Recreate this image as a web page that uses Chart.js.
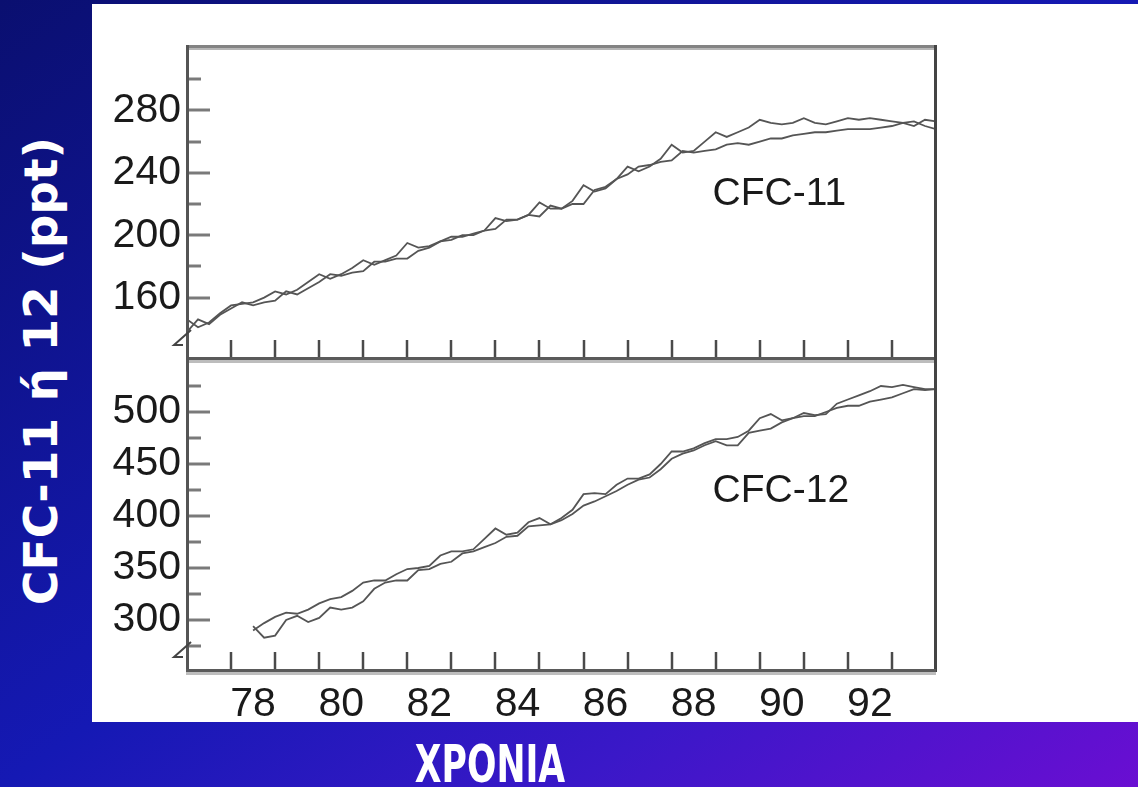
<!DOCTYPE html>
<html lang="el">
<head>
<meta charset="UTF-8">
<title>CFC-11 ή 12</title>
<script src="https://cdn.jsdelivr.net/npm/chart.js"></script>
<style>
  body {
    margin: 0;
    width: 1138px;
    height: 787px;
    overflow: hidden;
    position: relative;
    background: linear-gradient(to bottom right, #0a0f70 0%, #1519b4 50%, #3a18c8 75%, #6a0ed2 100%);
    font-family: "DejaVu Sans", sans-serif;
  }
  .sheet { position: absolute; left: 92px; top: 4px; width: 1046px; height: 718px; background: #fff; }
  canvas { position: absolute; left: 92px; }
  #c11 { top: 0; }
  #c12 { top: 300px; }
  #ytitle {
    position: absolute; left: 40px; top: 371px;
    transform: translate(-50%, -50%) rotate(-90deg);
    color: #fff; font-weight: bold; font-size: 47px; white-space: nowrap;
  }
  #xtitle {
    position: absolute; left: 490px; top: 764px;
    transform: translate(-50%, -50%) scaleX(0.68);
    color: #fff; font-weight: bold; font-size: 51px; white-space: nowrap;
  }
</style>
</head>
<body>

<div class="sheet"></div>
<canvas id="c11" width="1046" height="400"></canvas>
<canvas id="c12" width="1046" height="487"></canvas>
<div id="ytitle">CFC-11 ή 12 (ppt)</div>
<div id="xtitle">XPONIA</div>

<script>
    // CFC-11 (πάνω γράφημα), δύο σειρές ανά τρίμηνο
    const cfc11Years = [77, 77.25, 77.5, 77.75, 78, 78.25, 78.5, 78.75, 79, 79.25, 79.5, 79.75,
        80, 80.25, 80.5, 80.75, 81, 81.25, 81.5, 81.75, 82, 82.25, 82.5, 82.75,
        83, 83.25, 83.5, 83.75, 84, 84.25, 84.5, 84.75, 85, 85.25, 85.5, 85.75,
        86, 86.25, 86.5, 86.75, 87, 87.25, 87.5, 87.75, 88, 88.25, 88.5, 88.75,
        89, 89.25, 89.5, 89.75, 90, 90.25, 90.5, 90.75, 91, 91.25, 91.5, 91.75,
        92, 92.25, 92.5, 92.75, 93, 93.25, 93.5, 93.75, 94];
    const cfc11A = [146, 141, 144, 150, 155, 156, 157, 160, 164, 162, 165, 170,
        175, 172, 175, 179, 184, 181, 184, 187, 195, 192, 193, 196,
        199, 199, 201, 203, 211, 209, 210, 213, 221, 217, 217, 222,
        232, 228, 230, 236, 244, 241, 244, 249, 258, 253, 254, 260,
        266, 263, 266, 269, 274, 272, 271, 272, 275, 272, 271, 273,
        275, 274, 275, 274, 273, 272, 270, 274, 273];
    const cfc11B = [138, 146, 143, 149, 153, 157, 155, 157, 158, 164, 162, 166,
        170, 175, 174, 176, 177, 183, 183, 185, 185, 190, 192, 196,
        197, 200, 200, 203, 204, 210, 210, 213, 212, 219, 217, 220,
        220, 229, 231, 236, 239, 244, 245, 247, 248, 254, 253, 254,
        255, 258, 259, 258, 260, 262, 262, 264, 265, 266, 266, 267,
        268, 268, 268, 269, 270, 272, 273, 270, 268];

    // CFC-12 (κάτω γράφημα)
    const cfc12Years = [78.5, 78.75, 79, 79.25, 79.5, 79.75,
        80, 80.25, 80.5, 80.75, 81, 81.25, 81.5, 81.75, 82, 82.25, 82.5, 82.75,
        83, 83.25, 83.5, 83.75, 84, 84.25, 84.5, 84.75, 85, 85.25, 85.5, 85.75,
        86, 86.25, 86.5, 86.75, 87, 87.25, 87.5, 87.75, 88, 88.25, 88.5, 88.75,
        89, 89.25, 89.5, 89.75, 90, 90.25, 90.5, 90.75, 91, 91.25, 91.5, 91.75,
        92, 92.25, 92.5, 92.75, 93, 93.25, 93.5, 93.75, 94];
    const cfc12A = [290, 297, 303, 307, 306, 310,
        316, 320, 322, 328, 336, 338, 338, 344, 349, 350, 352, 362,
        366, 366, 368, 378, 388, 382, 384, 394, 398, 392, 398, 406,
        421, 422, 421, 430, 436, 436, 440, 450, 462, 462, 465, 470,
        474, 474, 476, 482, 494, 498, 492, 494, 499, 497, 498, 508,
        512, 516, 520, 525, 524, 526, 524, 522, 522];
    const cfc12B = [294, 283, 285, 300, 304, 298,
        302, 312, 310, 312, 318, 330, 336, 338, 338, 348, 349, 354,
        356, 364, 366, 370, 374, 380, 381, 390, 391, 392, 396, 402,
        410, 414, 419, 424, 430, 435, 437, 445, 455, 460, 463, 468,
        472, 468, 468, 480, 482, 484, 490, 494, 496, 496, 500, 504,
        506, 506, 510, 512, 514, 518, 522, 521, 522];

    // άξονες
    const yearTicks = [78, 79, 80, 81, 82, 83, 84, 85, 86, 87, 88, 89, 90, 91, 92, 93];
    const xLabels = ['78', '80', '82', '84', '86', '88', '90', '92'];
    const xLabelPos = [78.5, 80.5, 82.5, 84.5, 86.5, 88.5, 90.5, 92.5];
    const cfc11Major = [160, 200, 240, 280];
    const cfc11Minor = [180, 220, 260, 300];
    const cfc12Major = [300, 350, 400, 450, 500];
    const cfc12Minor = [275, 325, 375, 425, 475, 525];
    const panelNames = ['CFC-11', 'CFC-12'];
    const cfc11NameAt = [88.93, 226];
    const cfc12NameAt = [88.93, 424];

    const labelFont = { family: '"Liberation Sans", Arial, sans-serif', size: 41 };

    function pairs(xs, ys) {
        return xs.map(function (x, i) { return { x: x, y: ys[i] }; });
    }

    function line(ctx, x1, y1, x2, y2) {
        ctx.beginPath();
        ctx.moveTo(x1, y1);
        ctx.lineTo(x2, y2);
        ctx.stroke();
    }

    const panelPlugin = {
        id: 'panel',
        beforeDatasetsDraw(chart, args, opts) {
            const ctx = chart.ctx, a = chart.chartArea;
            const xs = chart.scales.x, ys = chart.scales.y;
            ctx.save();
            ctx.strokeStyle = '#4a4a4a';
            ctx.lineWidth = 2.5;
            yearTicks.forEach(function (v) {
                const px = Math.round(xs.getPixelForValue(v));
                line(ctx, px, a.bottom, px, a.bottom - 20);
            });
            ctx.strokeStyle = '#7a7a7a';
            ctx.lineWidth = 3;
            opts.major.forEach(function (v) {
                const py = Math.round(ys.getPixelForValue(v));
                line(ctx, a.left, py, a.left + 23, py);
            });
            opts.minor.forEach(function (v) {
                const py = Math.round(ys.getPixelForValue(v));
                line(ctx, a.left, py, a.left + 14, py);
            });
            ctx.restore();
        },
        afterDatasetsDraw(chart, args, opts) {
            const ctx = chart.ctx, a = chart.chartArea;
            const xs = chart.scales.x, ys = chart.scales.y;
            ctx.save();
            // πλαίσιο
            if (opts.drawTop) {
                ctx.fillStyle = '#838383';
                ctx.fillRect(a.left - 1, a.top - 3, a.right - a.left + 1, 3);
                ctx.fillStyle = '#b5b5b5';
                ctx.fillRect(a.left + 1, a.top, a.right - a.left - 2, 2);
            }
            ctx.fillStyle = '#555';
            ctx.fillRect(a.left - 1, a.top - 3, 3, a.bottom - a.top + 3);
            ctx.fillStyle = '#444';
            ctx.fillRect(a.right - 2, a.top - 3, 3, a.bottom - a.top + 3);
            ctx.fillStyle = '#5a5a5a';
            ctx.fillRect(a.left - 1, a.bottom - 3, a.right - a.left + 1, 3);
            ctx.fillStyle = '#bdbdbd';
            ctx.fillRect(a.left - 1, a.bottom, a.right - a.left + 1, 3);
            // σπάσιμο άξονα
            ctx.strokeStyle = '#444';
            ctx.lineWidth = 2;
            ctx.beginPath();
            ctx.moveTo(a.left + 4, a.bottom - 30);
            ctx.lineTo(a.left - 13, a.bottom - 15);
            ctx.lineTo(a.left - 4, a.bottom - 15);
            ctx.stroke();
            // όνομα σειράς
            ctx.fillStyle = '#1a1a1a';
            ctx.font = '39px "Liberation Sans", Arial, sans-serif';
            ctx.textBaseline = 'middle';
            ctx.textAlign = 'left';
            ctx.fillText(opts.name, xs.getPixelForValue(opts.nameAt[0]), ys.getPixelForValue(opts.nameAt[1]));
            ctx.restore();
        }
    };

    function dataset(points) {
        return {
            data: points,
            borderColor: '#555555',
            borderWidth: 1.8,
            pointRadius: 0,
            fill: false,
            tension: 0
        };
    }

    function yScale(min, max, majors) {
        return {
            type: 'linear',
            min: min,
            max: max,
            grid: { display: false, drawTicks: false },
            border: { display: false },
            afterBuildTicks: function (scale) {
                scale.ticks = majors.map(function (v) { return { value: v }; });
            },
            afterFit: function (scale) {
                scale.width = 95;
                scale.paddingTop = 0;
                scale.paddingBottom = 0;
            },
            ticks: { font: labelFont, color: '#1a1a1a', padding: 6 }
        };
    }

    Chart.defaults.animation = false;

    new Chart(document.getElementById('c11'), {
        type: 'line',
        data: {
            datasets: [dataset(pairs(cfc11Years, cfc11A)), dataset(pairs(cfc11Years, cfc11B))]
        },
        options: {
            responsive: false,
            devicePixelRatio: 1,
            layout: { padding: { left: 0, right: 202, top: 48, bottom: 40 } },
            plugins: {
                legend: { display: false },
                tooltip: { enabled: false },
                panel: { major: cfc11Major, minor: cfc11Minor, name: panelNames[0], nameAt: cfc11NameAt, drawTop: true }
            },
            scales: {
                x: { type: 'linear', min: 77, max: 94, display: false },
                y: yScale(120, 320, cfc11Major)
            }
        },
        plugins: [panelPlugin]
    });

    new Chart(document.getElementById('c12'), {
        type: 'line',
        data: {
            datasets: [dataset(pairs(cfc12Years, cfc12A)), dataset(pairs(cfc12Years, cfc12B))]
        },
        options: {
            responsive: false,
            devicePixelRatio: 1,
            layout: { padding: { left: 0, right: 202, top: 60, bottom: 65 } },
            plugins: {
                legend: { display: false },
                tooltip: { enabled: false },
                panel: { major: cfc12Major, minor: cfc12Minor, name: panelNames[1], nameAt: cfc12NameAt, drawTop: false }
            },
            scales: {
                x: {
                    type: 'linear',
                    min: 77,
                    max: 94,
                    grid: { display: false, drawTicks: false },
                    border: { display: false },
                    afterBuildTicks: function (scale) {
                        scale.ticks = xLabelPos.map(function (v) { return { value: v }; });
                    },
                    afterFit: function (scale) {
                        scale.height = 50;
                        scale.paddingLeft = 0;
                        scale.paddingRight = 0;
                    },
                    ticks: {
                        font: labelFont,
                        color: '#1a1a1a',
                        padding: 8,
                        maxRotation: 0,
                        autoSkip: false,
                        callback: function (value, index) { return xLabels[index]; }
                    }
                },
                y: yScale(250, 550, cfc12Major)
            }
        },
        plugins: [panelPlugin]
    });
</script>
</body>
</html>
